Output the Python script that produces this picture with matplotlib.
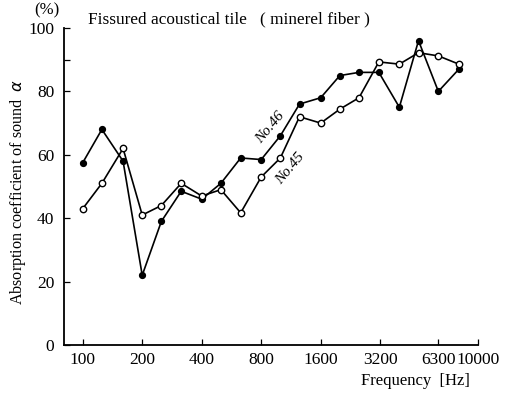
import matplotlib
matplotlib.use("Agg")
import matplotlib.pyplot as plt
from matplotlib.ticker import FixedLocator, NullLocator

freqs = [100, 125, 160, 200, 250, 315, 400, 500, 630, 800,
         1000, 1250, 1600, 2000, 2500, 3150, 4000, 5000, 6300, 8000]
no46 = [57.5, 68, 58, 22, 39, 48.5, 46, 51, 59, 58.5,
        66, 76, 78, 85, 86, 86, 75, 96, 80, 87]
no45 = [43, 51, 62, 41, 44, 51, 47, 49, 41.7, 53,
        59, 72, 70, 74.4, 78, 89.3, 88.6, 92.2, 91.2, 88.6]
xticks = [100, 200, 400, 800, 1600, 3200, 6300, 10000]
xticklabels = ["100", "200", "400", "800", "1600", "3200", "6300", "10000"]
yticks = [0, 20, 40, 60, 80, 100]

plt.rcParams['font.family'] = ['Liberation Serif', 'DejaVu Serif']

W, H = 507, 393
fig = plt.figure(figsize=(W / 100, H / 100), dpi=100)
ax = fig.add_axes([64/W, 48/H, 414/W, 317/H])

ax.plot(freqs, no46, color='black', lw=1.2, marker='o', ms=4.2,
        markerfacecolor='black', markeredgecolor='black', zorder=3)
ax.plot(freqs, no45, color='black', lw=1.2, marker='o', ms=4.6,
        markerfacecolor='white', markeredgecolor='black', mew=1.0, zorder=4)

ax.set_xscale('log')
ax.set_xlim(80.4, 10000)
ax.set_ylim(0, 100)

ax.xaxis.set_major_locator(FixedLocator(xticks))
ax.xaxis.set_minor_locator(NullLocator())
ax.set_xticklabels(xticklabels)
ax.yaxis.set_major_locator(FixedLocator(yticks))
ax.yaxis.set_minor_locator(FixedLocator([90]))

ax.tick_params(axis='both', which='both', direction='in', length=4, width=0.9,
               labelsize=12.5, colors='black')
ax.tick_params(axis='x', pad=5)
ax.tick_params(axis='y', pad=7)

for s in ['top', 'right']:
    ax.spines[s].set_visible(False)
for s in ['left', 'bottom']:
    ax.spines[s].set_linewidth(1.3)

def px(x, y):
    return (x / W, 1 - y / H)

fig.text(*px(47, 10), "(%)", fontsize=12, ha='center', va='center')
fig.text(*px(88, 19), "Fissured acoustical tile   ( minerel fiber )",
         fontsize=12.4, ha='left', va='center')
fig.text(*px(18, 192), r"Absorption coefficient of sound  $\alpha$",
         fontsize=11.6, rotation=90, ha='center', va='center')
fig.text(*px(470, 381), "Frequency  [Hz]", fontsize=12,
         ha='right', va='center')

fig.text(*px(270, 128), "No.46", fontsize=11, style='italic',
         rotation=50, ha='center', va='center')
fig.text(*px(290, 169), "No.45", fontsize=11, style='italic',
         rotation=50, ha='center', va='center')

fig.savefig("out.png", dpi=100)
